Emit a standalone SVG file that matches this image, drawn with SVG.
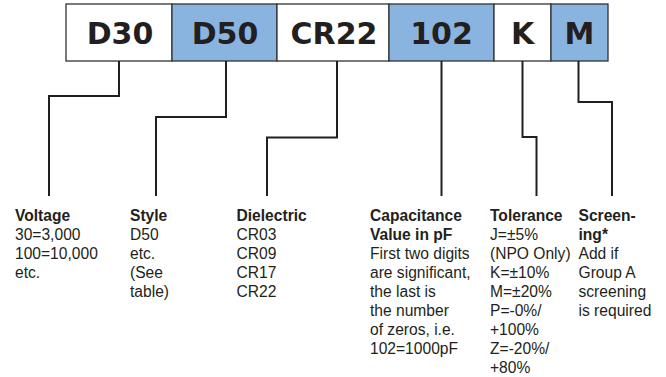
<svg xmlns="http://www.w3.org/2000/svg" width="666" height="377" viewBox="0 0 666 377">
<style>
.box{stroke:#333;stroke-width:1.3}
.w{fill:#fff}
.b{fill:#8ab4e0}
.code{font-family:"DejaVu Sans",Verdana,sans-serif;font-weight:bold;font-size:30px;fill:#231f20;text-anchor:middle}
.conn{fill:none;stroke:#231f20;stroke-width:2}
.lbl{font-family:"Liberation Sans",Arial,sans-serif;font-size:15.6px;fill:#231f20}
.h{font-weight:bold}
</style>
<rect width="666" height="377" fill="#fff"/>
<g id="node-voltage"><rect class="box w" x="66" y="4" width="106" height="57"/><text class="code" x="120" y="44">D30</text></g>
<g id="node-style"><rect class="box b" x="172" y="4" width="105" height="57"/><text class="code" x="225" y="44">D50</text></g>
<g id="node-dielectric"><rect class="box w" x="277" y="4" width="112" height="57"/><text class="code" x="334" y="44">CR22</text></g>
<g id="node-capacitance"><rect class="box b" x="389" y="4" width="105" height="57"/><text class="code" x="441.5" y="44">102</text></g>
<g id="node-tolerance"><rect class="box w" x="494" y="4" width="57" height="57"/><text class="code" x="522.5" y="44">K</text></g>
<g id="node-screening"><rect class="box b" x="551" y="4" width="57" height="57"/><text class="code" x="579.5" y="44">M</text></g>
<g id="connectors">
<polyline class="conn" points="119,61 119,96 49,96 49,196"/>
<polyline class="conn" points="226,61 226,117 156,117 156,196"/>
<polyline class="conn" points="337,61 337,137.5 267,137.5 267,196"/>
<polyline class="conn" points="441.5,61 441.5,196"/>
<polyline class="conn" points="522.5,61 522.5,137 536.5,137 536.5,196"/>
<polyline class="conn" points="578.5,61 578.5,102 612,102 612,196"/>
</g>
<g id="label-voltage"><text class="lbl" x="15" y="221"><tspan class="h" x="15">Voltage</tspan><tspan x="15" dy="19">30=3,000</tspan><tspan x="15" dy="19">100=10,000</tspan><tspan x="15" dy="19">etc.</tspan></text></g>
<g id="label-style"><text class="lbl" x="130" y="221"><tspan class="h" x="130">Style</tspan><tspan x="130" dy="19">D50</tspan><tspan x="130" dy="19">etc.</tspan><tspan x="130" dy="19">(See</tspan><tspan x="130" dy="19">table)</tspan></text></g>
<g id="label-dielectric"><text class="lbl" x="236.5" y="221"><tspan class="h" x="236.5">Dielectric</tspan><tspan x="236.5" dy="19">CR03</tspan><tspan x="236.5" dy="19">CR09</tspan><tspan x="236.5" dy="19">CR17</tspan><tspan x="236.5" dy="19">CR22</tspan></text></g>
<g id="label-capacitance"><text class="lbl" x="370" y="221"><tspan class="h" x="370">Capacitance</tspan><tspan class="h" x="370" dy="19">Value in pF</tspan><tspan x="370" dy="19">First two digits</tspan><tspan x="370" dy="19">are significant,</tspan><tspan x="370" dy="19">the last is</tspan><tspan x="370" dy="19">the number</tspan><tspan x="370" dy="19">of zeros, i.e.</tspan><tspan x="370" dy="19">102=1000pF</tspan></text></g>
<g id="label-tolerance"><text class="lbl" x="490" y="221"><tspan class="h" x="490">Tolerance</tspan><tspan x="490" dy="19">J=±5%</tspan><tspan x="490" dy="19">(NPO Only)</tspan><tspan x="490" dy="19">K=±10%</tspan><tspan x="490" dy="19">M=±20%</tspan><tspan x="490" dy="19">P=-0%/</tspan><tspan x="490" dy="19">+100%</tspan><tspan x="490" dy="19">Z=-20%/</tspan><tspan x="490" dy="19">+80%</tspan></text></g>
<g id="label-screening"><text class="lbl" x="578.5" y="221"><tspan class="h" x="578.5">Screen-</tspan><tspan class="h" x="578.5" dy="19">ing*</tspan><tspan x="578.5" dy="19">Add if</tspan><tspan x="578.5" dy="19">Group A</tspan><tspan x="578.5" dy="19">screening</tspan><tspan x="578.5" dy="19">is required</tspan></text></g>
</svg>
